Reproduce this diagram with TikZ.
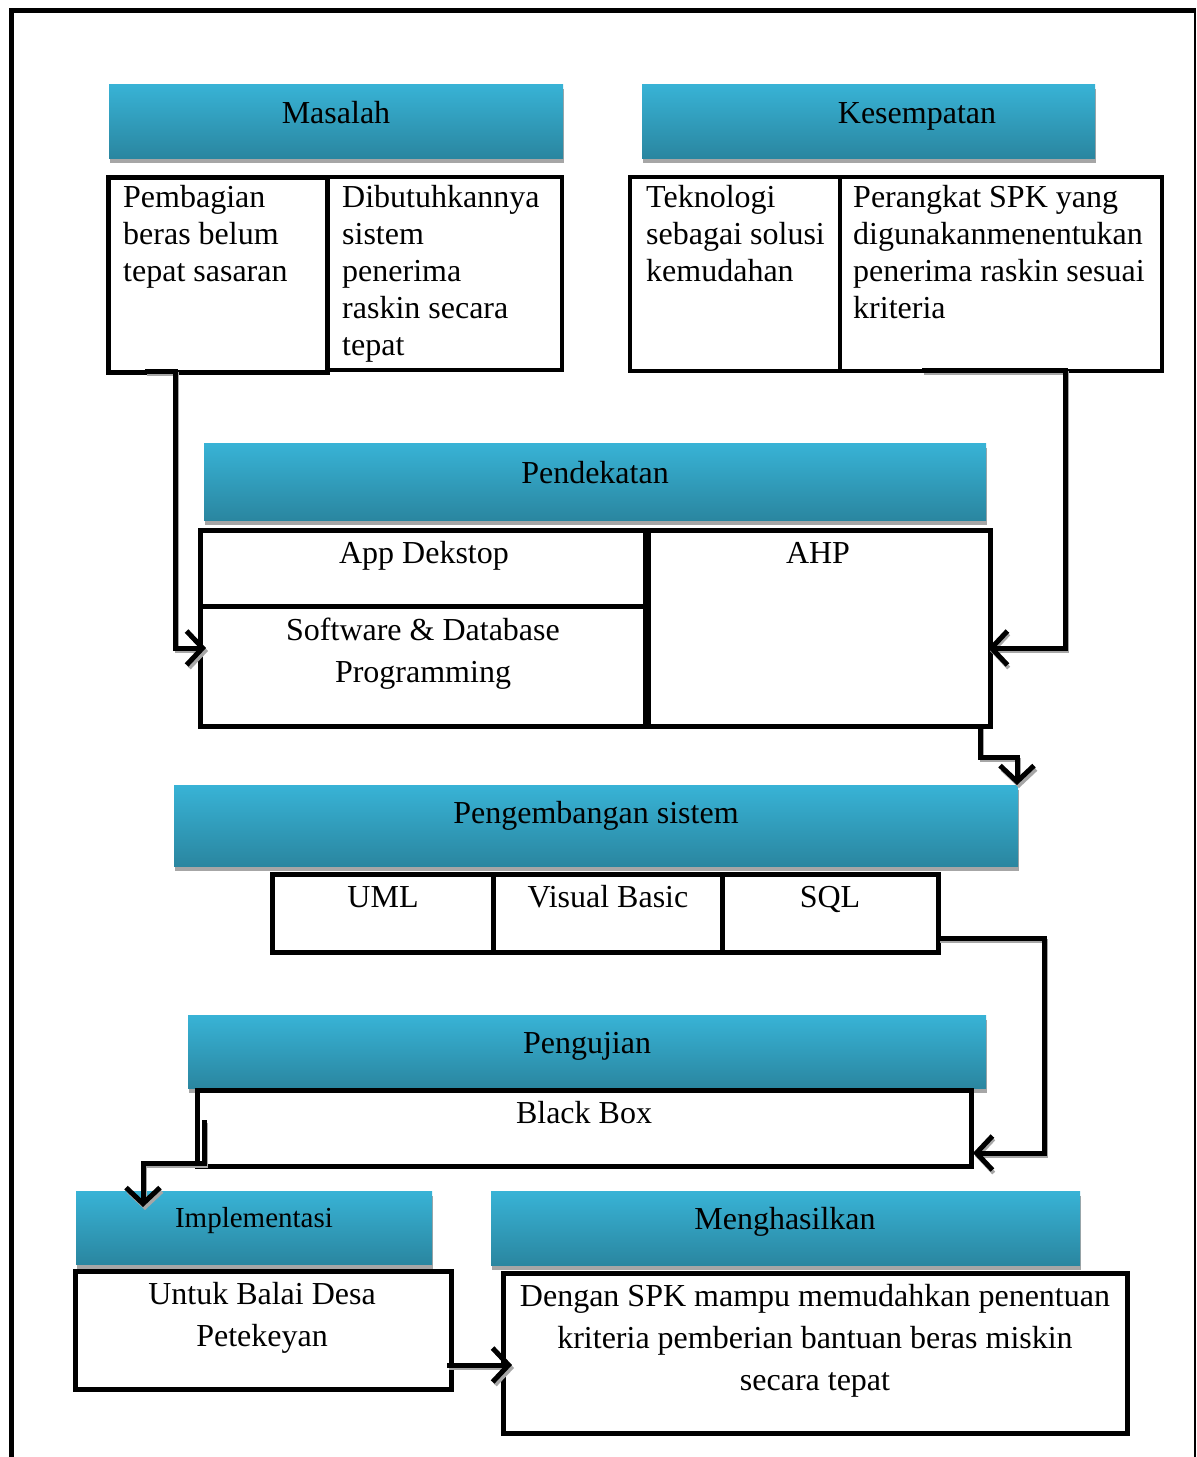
\documentclass[tikz,border=0pt]{standalone}
\usepackage{fontspec}
\setmainfont{Liberation Serif}
\usetikzlibrary{arrows.meta,shadows,calc}
\definecolor{hdtop}{RGB}{56,179,214}
\definecolor{hdbot}{RGB}{42,134,160}
\definecolor{shadowgray}{RGB}{166,166,166}
\begin{document}
\begin{tikzpicture}[x=1pt,y=-1pt,
  hdr/.style={shade, top color=hdtop, bottom color=hdbot, anchor=north west, inner sep=0pt, outer sep=0pt,
    drop shadow={shadow xshift=1pt, shadow yshift=-5pt, fill=shadowgray, opacity=1}},
  cell/.style={draw, line width=5pt, anchor=north west, inner sep=0pt, outer sep=0pt},
  txt/.style={inner sep=0pt, font=\fontsize{32}{37}\selectfont},
  ltxt/.style={txt, align=left, anchor=north west},
  ctxt/.style={inner sep=0pt, align=center, anchor=north, font=\fontsize{32}{42}\selectfont},
  stxt/.style={txt, anchor=base},
  conn/.style={draw=black, line width=5pt, -{Straight Barb[length=16pt,width=34pt]}},
  connshadow/.style={draw=shadowgray, line width=4pt, -{Straight Barb[length=16pt,width=34pt]}}
]
\useasboundingbox (0,0) rectangle (1197,1457);
% outer frame
\draw[line width=5pt] (11,1460) -- (11,10) -- (1196,10);
\draw[line width=2.5pt] (1195,10) -- (1195,1460);

% headers
\node[hdr, minimum width=454, minimum height=74] (hMas) at (109,84) {};
\node[hdr, minimum width=453, minimum height=74] (hKes) at (642,84) {};
\node[hdr, minimum width=782, minimum height=77] (hPend) at (204,443) {};
\node[hdr, minimum width=844, minimum height=81] (hPeng) at (174,785) {};
\node[hdr, minimum width=798, minimum height=73] (hUji) at (188,1015) {};
\node[hdr, minimum width=356, minimum height=73] (hImp) at (76,1191) {};
\node[hdr, minimum width=589, minimum height=74] (hHas) at (491,1191) {};

\node[stxt] (tMas) at (336,123) {Masalah};
\node[stxt] (tKes) at (917,123) {Kesempatan};
\node[stxt] (tPend) at (595,483) {Pendekatan};
\node[stxt] (tPeng) at (596,823) {Pengembangan sistem};
\node[stxt] (tUji) at (587,1053) {Pengujian};
\node[inner sep=0pt, anchor=base, font=\fontsize{29}{34}\selectfont] (tImp) at (254,1227) {Implementasi};
\node[stxt] (tHas) at (785,1229) {Menghasilkan};

% cells
\node[cell, minimum width=219, minimum height=195] (mA) at (108,177) {};
\node[cell, line width=4pt, minimum width=235, minimum height=193] (mB) at (327,177) {};
\node[cell, line width=4pt, minimum width=210, minimum height=194] (kA) at (630,177) {};
\node[cell, line width=4pt, minimum width=322, minimum height=194] (kB) at (840,177) {};
\node[cell, minimum width=445, minimum height=76] (pA) at (200,530) {};
\node[cell, minimum width=445, minimum height=120] (pB) at (200,606) {};
\node[cell, minimum width=342, minimum height=196] (pC) at (648,530) {};
\node[cell, minimum width=221, minimum height=78] (u1) at (272,874) {};
\node[cell, minimum width=229, minimum height=78] (u2) at (493,874) {};
\node[cell, minimum width=216, minimum height=78] (u3) at (722,874) {};
\node[cell, minimum width=774, minimum height=76] (bb) at (197,1090) {};
\node[cell, minimum width=376, minimum height=118] (ub) at (75,1271) {};
\node[cell, minimum width=624, minimum height=160] (ds) at (503,1273) {};

% cell texts
\node[ltxt] (t1) at (123,185) {Pembagian\\beras belum\\tepat sasaran};
\node[ltxt] (t2) at (342,185) {Dibutuhkannya\\sistem\\penerima\\raskin secara\\tepat};
\node[ltxt] (t3) at (646,185) {Teknologi\\sebagai solusi\\kemudahan};
\node[ltxt] (t4) at (853,185) {Perangkat SPK yang\\digunakanmenentukan\\penerima raskin sesuai\\kriteria};
\node[stxt] (t5) at (424,563) {App Dekstop};
\node[ctxt] (t6) at (423,618) {Software \& Database\\Programming};
\node[stxt] (t7) at (818,563) {AHP};
\node[stxt] (t8) at (383,907) {UML};
\node[stxt] (t9) at (608,907) {Visual Basic};
\node[stxt] (t10) at (830,907) {SQL};
\node[stxt] (t11) at (584,1123) {Black Box};
\node[ctxt] (t12) at (262,1282) {Untuk Balai Desa\\Petekeyan};
\node[ctxt] (t13) at (815,1284) {Dengan SPK mampu memudahkan penentuan\\kriteria pemberian bantuan beras miskin\\secara tepat};

% connector coordinates
\coordinate (c1) at (175,648);
\coordinate (c2) at (1065,648);
\coordinate (c3) at (1017,757);
\coordinate (c4) at (1044,938);
\coordinate (c5) at (1044,1153);
\coordinate (c6) at (204,1120);
\coordinate (c7) at (143,1163);
\coordinate (c8) at (143,1207);
\coordinate (c9) at (447,1365);

% connector shadows
\begin{scope}[transform canvas={shift={(2pt,-3pt)}}]
\draw[connshadow] ($(mA.south west)+(37,-1)$) -| (c1) -- ($(pB.west |- c1)+(6,0)$);
\draw[connshadow] ($(kB.south west)+(82,-1)$) -| (c2) -- ($(pC.east |- c2)+(-2,0)$);
\draw[connshadow] ($(pC.south east)+(-10,0)$) |- (c3) -- (c3 |- hPeng.north);
\draw[connshadow] (u3.east |- c4) -- (c4) -- (c5) -- ($(bb.east |- c5)+(2,0)$);
\draw[connshadow] (c6) |- (c7) -- (c8);
\draw[connshadow] (c9) -- ($(ds.west |- c9)+(9,0)$);
\end{scope}
% connectors
\draw[conn] ($(mA.south west)+(37,-1)$) -| (c1) -- ($(pB.west |- c1)+(6,0)$);
\draw[conn] ($(kB.south west)+(82,-1)$) -| (c2) -- ($(pC.east |- c2)+(-2,0)$);
\draw[conn] ($(pC.south east)+(-10,0)$) |- (c3) -- (c3 |- hPeng.north);
\draw[conn] (u3.east |- c4) -- (c4) -- (c5) -- ($(bb.east |- c5)+(2,0)$);
\draw[conn] (c6) |- (c7) -- (c8);
\draw[conn] (c9) -- ($(ds.west |- c9)+(9,0)$);
\end{tikzpicture}
\end{document}
